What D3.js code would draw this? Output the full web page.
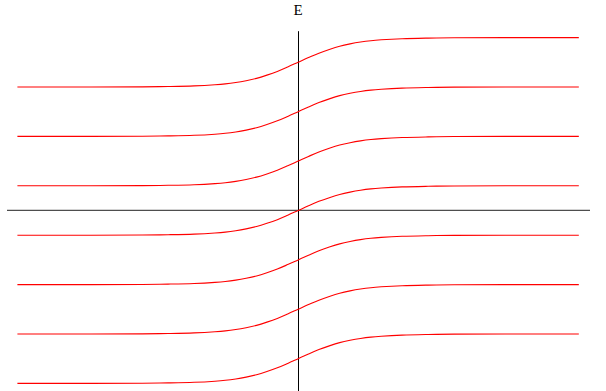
<!DOCTYPE html>
<meta charset="utf-8">
<style>
body { margin: 0; background: #fff; }
.band { fill: none; stroke: red; stroke-width: 1.1px; }
.axis-line { stroke: #000; stroke-width: 1px; }
.e-label { font: 15px "Liberation Serif", "Times New Roman", serif; }
</style>
<svg width="606" height="391"></svg>
<script src="https://cdn.jsdelivr.net/npm/d3@7"></script>
<script>
// band centres (energy units, one step between neighbours)
var levels = [-3, -2, -1, 0, 1, 2, 3];

// shape of one step, right half, mirrored for the left half
var profileX = [0, 0.2, 0.4, 0.6, 0.8, 1.0, 1.2, 1.4, 1.6, 2.0, 2.5, 3.0, 4.0, 5.4];
var profileShape = [0, 0.19, 0.37, 0.52, 0.65, 0.745, 0.82, 0.875, 0.91, 0.955, 0.98, 0.993, 1.0, 1.0];

var axisLabel = "E";

var svg = d3.select("svg");

var x = d3.scaleLinear().domain([-5.6, 5.615]).range([7, 590]);
var y = d3.scaleLinear().domain([0, 1]).range([210.5, 161.1]);

var line = d3.line()
    .x(function(d) { return x(d[0]); })
    .y(function(d) { return y(d[1]); })
    .curve(d3.curveCatmullRom.alpha(0.5));

function bandPoints(c) {
  var pts = [];
  for (var i = profileX.length - 1; i > 0; i--) pts.push([-profileX[i], c - 0.5 * profileShape[i]]);
  for (var j = 0; j < profileX.length; j++) pts.push([profileX[j], c + 0.5 * profileShape[j]]);
  return pts;
}

// axes
svg.append("line")
    .attr("class", "axis-line")
    .attr("x1", x(-5.6)).attr("x2", x(5.615))
    .attr("y1", y(0) - 0.2).attr("y2", y(0) - 0.2)
    .style("stroke", "#222");

svg.append("line")
    .attr("class", "axis-line")
    .attr("x1", Math.round(x(0)) + 0.5).attr("x2", Math.round(x(0)) + 0.5)
    .attr("y1", y(3.63)).attr("y2", 391);

svg.append("text")
    .attr("class", "e-label")
    .attr("x", x(0))
    .attr("y", 15)
    .attr("text-anchor", "middle")
    .text(axisLabel);

svg.selectAll(".band")
    .data(levels)
  .enter().append("path")
    .attr("class", "band")
    .attr("d", function(c) { return line(bandPoints(c)); });
</script>
